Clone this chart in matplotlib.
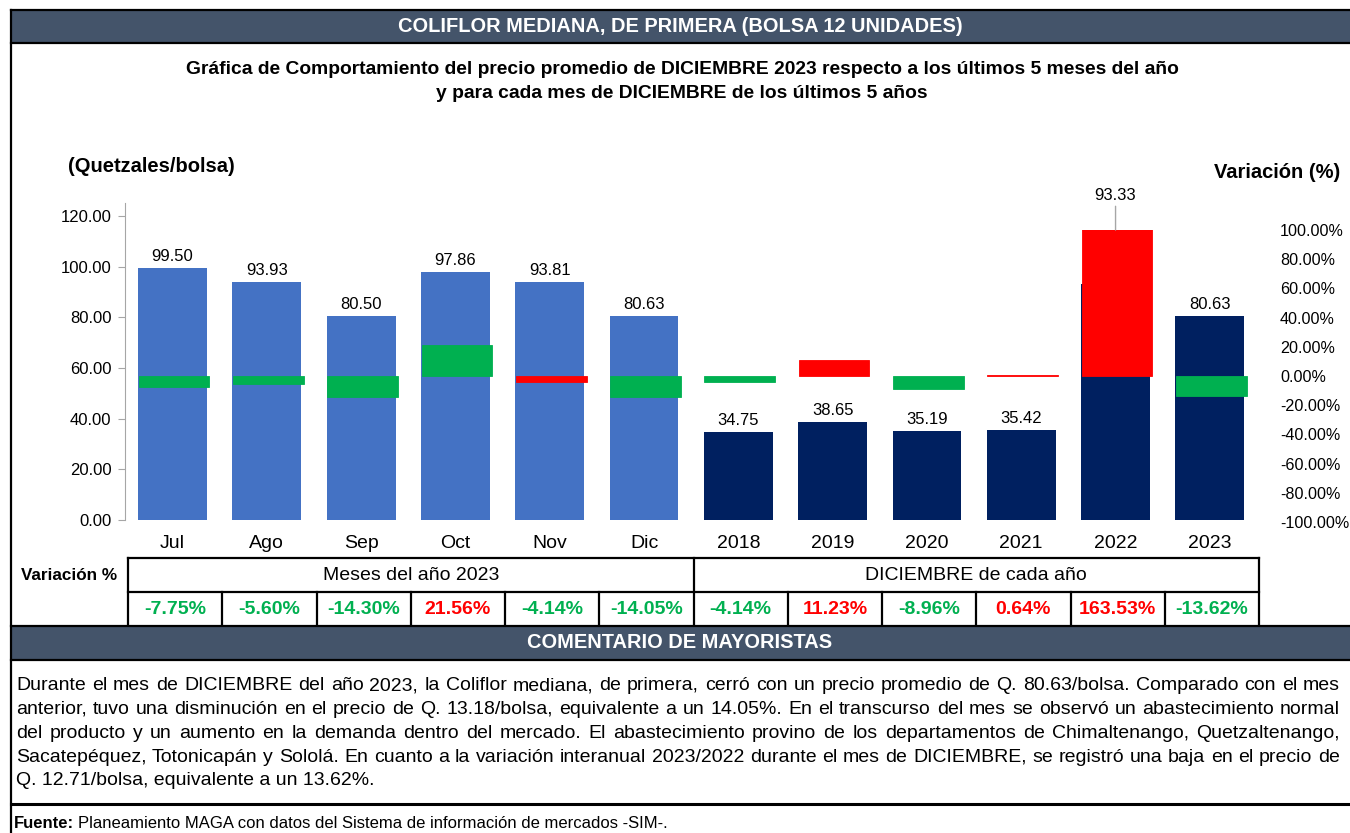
import numpy as np
import matplotlib
matplotlib.use('Agg')
import matplotlib.pyplot as plt
from matplotlib.lines import Line2D
from matplotlib.patches import Rectangle
from matplotlib.ticker import FormatStrFormatter, PercentFormatter

plt.rcParams['font.family'] = ['Liberation Sans', 'DejaVu Sans']
plt.rcParams['axes.unicode_minus'] = False

# ---- data ----
categories = ['Jul', 'Ago', 'Sep', 'Oct', 'Nov', 'Dic',
              '2018', '2019', '2020', '2021', '2022', '2023']
prices = [99.50, 93.93, 80.50, 97.86, 93.81, 80.63,
          34.75, 38.65, 35.19, 35.42, 93.33, 80.63]
variation_pct = [-7.75, -5.60, -14.30, 21.56, -4.14, -14.05,
                 -4.14, 11.23, -8.96, 0.64, 163.53, -13.62]
price_colors = ['#4472C4'] * 6 + ['#002060'] * 6
var_bar_colors = ['#00B050', '#00B050', '#00B050', '#00B050', '#FF0000', '#00B050',
                  '#00B050', '#FF0000', '#00B050', '#FF0000', '#FF0000', '#00B050']
group_labels = ['Meses del año 2023', 'DICIEMBRE de cada año']

header = 'COLIFLOR MEDIANA, DE PRIMERA (BOLSA 12 UNIDADES)'
subtitle = ['Gráfica de Comportamiento del precio promedio de DICIEMBRE 2023 respecto a los últimos 5 meses del año',
            'y para cada mes de DICIEMBRE de los últimos 5 años']
comment_lines = [
    'Durante el mes de DICIEMBRE del año 2023, la Coliflor mediana, de primera, cerró con un precio promedio de Q. 80.63/bolsa. Comparado con el mes',
    'anterior, tuvo una disminución en el precio de Q. 13.18/bolsa, equivalente a un 14.05%. En el transcurso del mes se observó un abastecimiento normal',
    'del producto y un aumento en la demanda dentro del mercado. El abastecimiento provino de los departamentos de Chimaltenango, Quetzaltenango,',
    'Sacatepéquez, Totonicapán y Sololá.  En cuanto a la variación interanual 2023/2022 durante el mes de DICIEMBRE, se registró una baja en el precio de',
    'Q. 12.71/bolsa, equivalente a un 13.62%.',
]
source = 'Planeamiento MAGA con datos del Sistema de información de mercados -SIM-.'

GREEN = '#00B050'
RED = '#FF0000'
DARK = '#44546A'

W, H = 1350, 833
fig = plt.figure(figsize=(13.5, 8.33), dpi=100)


def fx(px):
    return px / W


def fy(py):
    return 1 - py / H


def hline(x0, x1, y, lw=1.6, color='black'):
    fig.add_artist(Line2D([fx(x0), fx(x1)], [fy(y), fy(y)], lw=lw, color=color))


def vline(x, y0, y1, lw=1.6, color='black'):
    fig.add_artist(Line2D([fx(x), fx(x)], [fy(y0), fy(y1)], lw=lw, color=color))


def band(y0, y1, text):
    fig.add_artist(Rectangle((fx(11), fy(y1)), fx(W - 11), (y1 - y0) / H,
                             color=DARK, lw=0))
    hline(11, W, y0)
    hline(11, W, y1)
    fig.text(fx(680), fy((y0 + y1) / 2), text, color='white', fontsize=14.4,
             fontweight='bold', ha='center', va='center')


# ---- frame and header bands ----
vline(11, 10, H)
band(10, 43, header)
band(626, 660, 'COMENTARIO DE MAYORISTAS')
hline(11, W, 804, lw=2.2)

fig.text(fx(682), fy(70), subtitle[0], fontsize=13.9, fontweight='bold', ha='center', va='center')
fig.text(fx(682), fy(93), subtitle[1], fontsize=13.9, fontweight='bold', ha='center', va='center')
fig.text(fx(68), fy(166), '(Quetzales/bolsa)', fontsize=14.5, fontweight='bold', va='center')
fig.text(fx(1340), fy(173), 'Variación (%)', fontsize=14.5, fontweight='bold', ha='right', va='center')

# ---- price bars ----
ax_l, ax_r = 125.4, 1257
x = np.arange(len(categories))
ax = fig.add_axes([fx(ax_l), fy(520), (ax_r - ax_l) / W, (520 - 203) / H])
ax.bar(x, prices, width=0.73, color=price_colors, zorder=2)
ax.set_xlim(-0.5, len(categories) - 0.5)
ax.set_ylim(0, 125.1)
ax.set_yticks(np.arange(0, 121, 20))
ax.yaxis.set_major_formatter(FormatStrFormatter('%.2f'))
ax.set_xticks(x)
ax.set_xticklabels(categories, fontsize=14)
ax.tick_params(axis='x', length=0, pad=11)
ax.tick_params(axis='y', labelsize=12, length=5, color='#A6A6A6', pad=5)
for s in ['top', 'right', 'bottom']:
    ax.spines[s].set_visible(False)
ax.spines['left'].set_color('#A6A6A6')

# ---- variation bars on their own scale ----
ax2 = fig.add_axes([fx(ax_l), fy(522), (ax_r - ax_l) / W, (522 - 230) / H])
ax2.patch.set_alpha(0)
ax2.bar(x + 0.015, np.array(variation_pct) / 100, width=0.75, color=var_bar_colors,
        edgecolor=var_bar_colors, lw=0.6, zorder=3)
ax2.set_xlim(ax.get_xlim())
ax2.set_ylim(-1, 1)
ax2.set_yticks(np.round(np.arange(-1, 1.01, 0.2), 1) + 0.0)
ax2.yaxis.set_major_formatter(PercentFormatter(1.0, decimals=2))
ax2.yaxis.tick_right()
ax2.tick_params(axis='y', length=0, labelsize=11.6, pad=16.5)
ax2.set_xticks([])
for s in ax2.spines.values():
    s.set_visible(False)
for lbl in ax2.get_yticklabels():
    lbl.set_ha('left')

# value labels
top2 = ax2.get_ylim()[1]
for i, p in enumerate(prices):
    if variation_pct[i] / 100 > top2:
        ax2.annotate(f'{p:.2f}', xy=(i, top2), xytext=(0, 34), textcoords='offset pixels',
                     ha='center', va='center', fontsize=12, annotation_clip=False,
                     arrowprops=dict(arrowstyle='-', color='#A6A6A6', lw=1,
                                     shrinkA=0, shrinkB=0))
    else:
        ax.annotate(f'{p:.2f}', xy=(i, p), xytext=(0, 4), textcoords='offset pixels',
                    ha='center', va='bottom', fontsize=12)

# ---- variation table ----
tl, tr = 128, 1259
ty0, ty1, ty2 = 558, 592, 625
n = len(categories)
colw = (tr - tl) / n
half = n // 2
fig.text(fx(69.5), fy((ty0 + ty1) / 2), 'Variación %', fontsize=12.3, fontweight='bold',
         ha='center', va='center')
hline(tl, tr, ty0)
hline(tl, tr, ty1)
vline(tl, ty0, ty2)
vline(tr, ty0, ty2)
vline(tl + half * colw, ty0, ty2)
for k in range(1, n):
    if k != half:
        vline(tl + k * colw, ty1, ty2)
for g, lab in enumerate(group_labels):
    cx = tl + (g * half + half / 2) * colw
    fig.text(fx(cx), fy((ty0 + ty1) / 2), lab, fontsize=14, ha='center', va='center')
for i, v in enumerate(variation_pct):
    cx = tl + (i + 0.5) * colw
    fig.text(fx(cx), fy((ty1 + ty2) / 2 + 1), f'{v:.2f}%', fontsize=14, fontweight='bold',
             color=GREEN if v < 0 else RED, ha='center', va='center')

# ---- comment, justified ----
renderer = fig.canvas.get_renderer()
left_px, right_px = 16, 1340
line_y = [686, 709.5, 733, 757, 780.5]
for j, line in enumerate(comment_lines):
    if j == len(comment_lines) - 1:
        fig.text(fx(left_px), fy(line_y[j]), line, fontsize=14, va='center')
        continue
    words = line.split()
    arts = [fig.text(0, fy(line_y[j]), w, fontsize=14, va='center') for w in words]
    widths = [a.get_window_extent(renderer).width for a in arts]
    gap = (right_px - left_px - sum(widths)) / (len(words) - 1)
    pos = left_px
    for a, w in zip(arts, widths):
        a.set_x(fx(pos))
        pos += w + gap

# ---- source ----
t = fig.text(fx(14), fy(824), 'Fuente:', fontsize=12, fontweight='bold', va='center')
wsrc = t.get_window_extent(renderer).width
fig.text(fx(14 + wsrc + 4), fy(824), source, fontsize=12, va='center')

fig.savefig('out.png', dpi=100)
